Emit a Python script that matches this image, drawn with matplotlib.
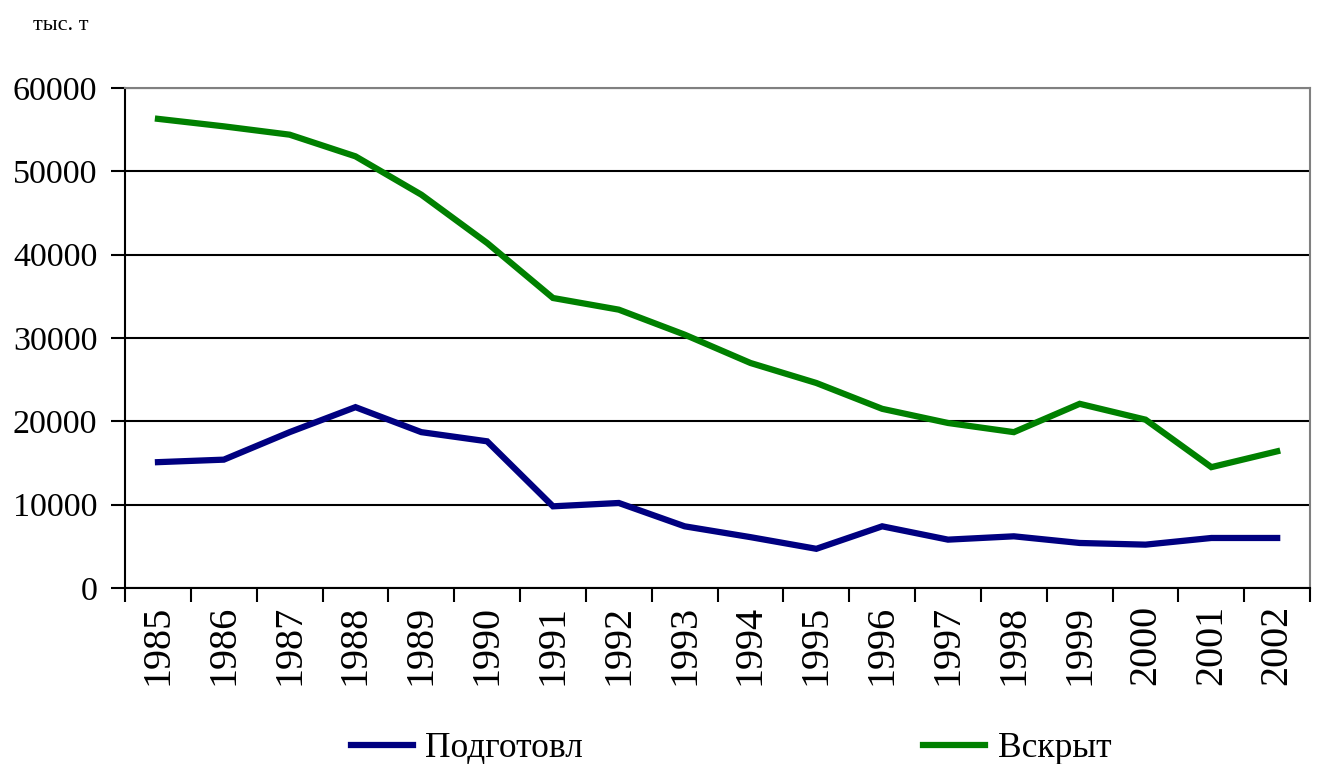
import matplotlib.pyplot as plt
import numpy as np

years = ['1985', '1986', '1987', '1988', '1989', '1990', '1991', '1992', '1993',
         '1994', '1995', '1996', '1997', '1998', '1999', '2000', '2001', '2002']
podgotovl = [15100, 15400, 18700, 21700, 18700, 17600, 9800, 10200, 7400,
             6100, 4700, 7400, 5800, 6200, 5400, 5200, 6000, 6000]
vskryt = [56300, 55400, 54400, 51800, 47200, 41400, 34800, 33400, 30400,
          27000, 24600, 21500, 19800, 18700, 22100, 20200, 14500, 16400]

plt.rcParams['font.family'] = ['Liberation Serif', 'DejaVu Serif']

fig = plt.figure(figsize=(13.22, 7.64), dpi=100)
ax = fig.add_axes([0.0946, 0.2304, 0.8964, 0.6544])

x = np.arange(len(years))
ax.plot(x, podgotovl, color='#000080', lw=4.5, label='Подготовл', solid_joinstyle='miter')
ax.plot(x, vskryt, color='#008000', lw=4.5, label='Вскрыт', solid_joinstyle='miter')

ax.set_xlim(-0.5, len(years) - 0.5)
ax.set_ylim(0, 60000)
ax.set_yticks(range(0, 60001, 10000))
ax.tick_params(axis='y', labelsize=24.5, length=10, width=1.5, direction='out', pad=10)
ax.yaxis.grid(True, color='black', lw=1.5)
ax.set_axisbelow(True)

ax.set_xticks(np.arange(-0.5, len(years), 1.0))
ax.set_xticklabels([])
ax.set_xticks(x, minor=True)
ax.set_xticklabels(years, minor=True, rotation=90, fontsize=29)
ax.tick_params(axis='x', which='major', length=10, width=1.5, direction='out')
ax.tick_params(axis='x', which='minor', length=0, pad=12)

for s in ['top', 'right']:
    ax.spines[s].set_color('#808080')
    ax.spines[s].set_linewidth(1.5)
for s in ['left', 'bottom']:
    ax.spines[s].set_linewidth(1.5)

fig.text(0.025, 0.967, 'тыс. т', fontsize=16, va='center')

leg = fig.legend(loc='center', bbox_to_anchor=(0.553, 0.02), ncol=2, frameon=False,
                 fontsize=25.5, handlelength=1.75, columnspacing=9.6, handletextpad=0.35)

fig.savefig('out.png', dpi=100)
